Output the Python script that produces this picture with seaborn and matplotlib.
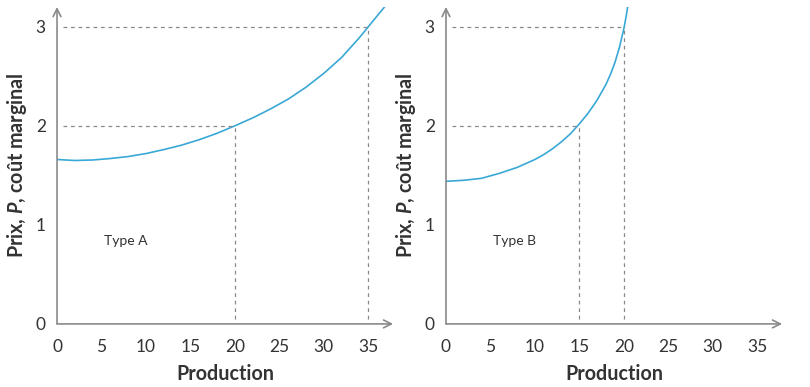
import matplotlib
matplotlib.use("Agg")
import matplotlib.pyplot as plt
import seaborn as sns
import pandas as pd

# marginal cost curves
prod_a = [0, 2, 4, 6, 8, 10, 12, 14, 16, 18, 20, 22, 24, 26, 28, 30, 32, 34, 35, 36, 37.2]
cost_a = [1.66, 1.65, 1.655, 1.67, 1.69, 1.72, 1.76, 1.805, 1.86, 1.925, 2.0, 2.08, 2.17, 2.27, 2.39, 2.53, 2.69, 2.89, 3.0, 3.11, 3.24]

prod_b = [0, 2, 4, 6, 8, 10, 11, 12, 13, 14, 15, 16, 17, 18, 18.5, 19, 19.5, 20, 20.25, 20.5]
cost_b = [1.44, 1.45, 1.47, 1.52, 1.58, 1.66, 1.71, 1.77, 1.84, 1.92, 2.02, 2.13, 2.26, 2.42, 2.52, 2.64, 2.79, 2.98, 3.1, 3.24]

# guide points (production, price)
guides_a = [(20, 2), (35, 3)]
guides_b = [(15, 2), (20, 3)]

x_ticks = [0, 5, 10, 15, 20, 25, 30, 35]
y_ticks = [0, 1, 2, 3]

sns.set_style("white")
plt.rcParams['font.family'] = ['Lato', 'DejaVu Sans']
plt.rcParams['mathtext.fontset'] = 'custom'
plt.rcParams['mathtext.it'] = 'Lato:bold:italic'
plt.rcParams['mathtext.rm'] = 'Lato:bold'

axis_col = '#8a8a8a'
curve_col = '#3aa8d6'
text_col = '#333333'

fig = plt.figure(figsize=(8.1, 3.87), dpi=100)
ax_a = fig.add_axes([0.0704, 0.163, 0.415, 0.819])
ax_b = fig.add_axes([0.5506, 0.163, 0.415, 0.819])


def draw_panel(ax, xs, ys, guides, label):
    df = pd.DataFrame({'Production': xs, 'Prix': ys})
    sns.lineplot(data=df, x='Production', y='Prix', color=curve_col, lw=1.2, ax=ax)
    for gx, gy in guides:
        ax.plot([0.7, gx], [gy, gy], ls=(0, (3, 3)), color=axis_col, lw=0.9)
        ax.plot([gx, gx], [0.05, gy], ls=(0, (3, 3)), color=axis_col, lw=0.9)
    ax.text(5.3, 0.84, label, fontsize=10, color=text_col, va='center', ha='left')

    ax.set_xlim(0, 37.8)
    ax.set_ylim(0, 3.2)
    ax.set_xticks(x_ticks)
    ax.set_yticks(y_ticks)
    for s in ax.spines.values():
        s.set_visible(False)
    ax.tick_params(axis='both', colors=axis_col, labelcolor=text_col, labelsize=12.5,
                   length=5, width=1, direction='out', pad=3)
    ax.tick_params(axis='x', pad=6)

    # axes with arrow heads
    ax.annotate('', xy=(1, 0), xytext=(0, 0), xycoords='axes fraction',
                arrowprops=dict(arrowstyle='->', color=axis_col, lw=1.2,
                                shrinkA=0, shrinkB=0, mutation_scale=14))
    ax.annotate('', xy=(0, 1), xytext=(0, 0), xycoords='axes fraction',
                arrowprops=dict(arrowstyle='->', color=axis_col, lw=1.2,
                                shrinkA=0, shrinkB=0, mutation_scale=14))

    ax.set_xlabel('Production', fontsize=14.2, fontweight='bold', color=text_col, labelpad=6)
    ax.set_ylabel(r'Prix, $P$, coût marginal', fontsize=14.2, fontweight='bold',
                  color=text_col, labelpad=5)


draw_panel(ax_a, prod_a, cost_a, guides_a, 'Type A')
draw_panel(ax_b, prod_b, cost_b, guides_b, 'Type B')

fig.savefig('out.png', dpi=100)
